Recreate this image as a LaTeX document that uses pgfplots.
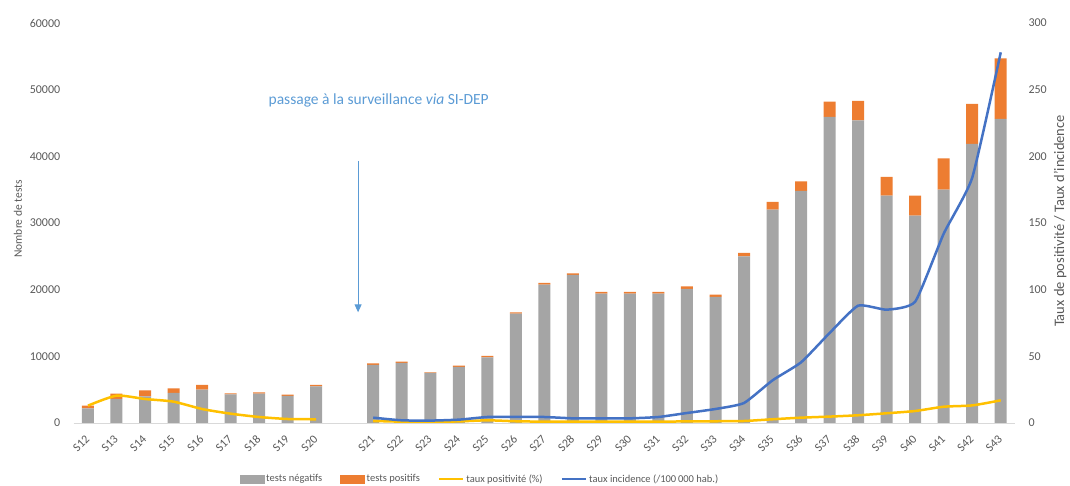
\documentclass[border=0pt]{standalone}
\usepackage{fontspec}
\setmainfont{Carlito}
\usepackage{pgfplots}
\usepackage{pgfplotstable}
\pgfplotsset{compat=1.18}
\usetikzlibrary{arrows.meta}
\definecolor{cgray}{HTML}{A5A5A5}
\definecolor{corange}{HTML}{ED7D31}
\definecolor{cyellow}{HTML}{FFC000}
\definecolor{cblue}{HTML}{4472C4}
\definecolor{carrow}{HTML}{5B9BD5}
\definecolor{ctext}{HTML}{595959}
\definecolor{caxis}{HTML}{D9D9D9}

\pgfplotstableread{
x neg pos
0 2200 400
1 3600 800
2 4000 900
3 4500 700
4 5000 700
5 4300 150
6 4400 200
7 4050 200
8 5500 200
10 8700 250
11 9000 200
12 7500 100
13 8400 200
14 9850 200
15 16400 200
16 20750 250
17 22200 250
18 19400 250
19 19400 250
20 19400 250
21 20100 400
22 18900 350
23 25000 500
24 32000 1150
25 34800 1450
26 45900 2300
27 45400 2900
28 34100 2800
29 31100 3000
30 35000 4700
31 41850 6000
32 45600 9100
}\bars

\pgfplotstableread{
x y
0 13
1 20.5
2 18
3 16
4 10.5
5 7
6 4.5
7 3
8 2.8
}\posleft

\pgfplotstableread{
x y
10 1.5
11 1.0
12 0.8
13 1.2
14 2.0
15 1.3
16 1.0
17 1.0
18 1.0
19 1.0
20 1.0
21 1.2
22 1.3
23 1.5
24 2.8
25 4
26 4.8
27 5.8
28 7.3
29 9
30 12.2
31 13.2
32 17
}\posright

\pgfplotstableread{
x y
10 4
11 2
12 1.8
13 2.5
14 4.5
15 4.5
16 4.5
17 3.5
18 3.5
19 3.5
20 4.5
21 7.5
22 10.5
23 15
24 32
25 45.5
26 67.5
27 88
28 85
29 91
30 142
31 184
32 278
}\incid

\pgfplotsset{
  common/.style={
    at={(73.7pt,63pt)}, anchor=south west,
    width=941.3pt, height=400pt, scale only axis,
    xmin=-0.5, xmax=32.5,
    major tick length=0pt,
    tick label style={font=\fontsize{12}{14}\selectfont, text=ctext},
    /pgf/number format/assume math mode=true,
    /pgf/number format/1000 sep={},
    scaled y ticks=false,
  }
}

\begin{document}
\begin{tikzpicture}
\useasboundingbox (0,0) rectangle (1070pt,486pt);
\begin{axis}[common,
  ymin=0, ymax=60000,
  ytick={0,10000,...,60000},
  axis x line*=bottom, axis y line*=left,
  x axis line style={caxis, line width=0.8pt},
  y axis line style={draw=none},
  xtick={0,1,2,3,4,5,6,7,8,10,11,12,13,14,15,16,17,18,19,20,21,22,23,24,25,26,27,28,29,30,31,32},
  xticklabels={S12,S13,S14,S15,S16,S17,S18,S19,S20,S21,S22,S23,S24,S25,S26,S27,S28,S29,S30,S31,S32,S33,S34,S35,S36,S37,S38,S39,S40,S41,S42,S43},
  xticklabel style={xshift=2pt, yshift=-11.5pt, rotate=45, anchor=east},
  yticklabel style={xshift=-10pt},
  ylabel={Nombre de tests},
  ylabel style={at={(axis description cs:-0.0592,0.51)}, anchor=center, rotate=0,
    font=\fontsize{11.5}{13}\selectfont, text=ctext},
  ybar stacked, bar width=12pt,
]
\addplot[fill=cgray, draw=none] table[x=x, y=neg] {\bars};
\addplot[fill=corange, draw=none] table[x=x, y=pos] {\bars};
\draw[carrow, line width=1pt, -{Triangle[length=8pt,width=7pt]}] (axis cs:9.47,39300) -- (axis cs:9.47,16600);
\end{axis}
\begin{axis}[common,
  ymin=0, ymax=300,
  ytick={0,50,...,300},
  axis x line=none, axis y line*=right,
  y axis line style={draw=none},
  yticklabel style={anchor=west, xshift=10pt},
  ylabel={Taux de positivité / Taux d'incidence},
  ylabel style={at={(axis description cs:1.048,0.505)}, anchor=center, rotate=0,
    font=\fontsize{14.5}{16}\selectfont, text=ctext},
  legend style={at={(0.4317,-0.14)}, anchor=center, draw=none, fill=none,
    legend columns=4, font=\fontsize{10.5}{12}\selectfont, text=ctext,
    /tikz/every odd column/.append style={column sep=0pt},
    /tikz/every even column/.append style={column sep=16pt}},
  legend image code/.code={\draw (0pt,0pt) -- (24pt,0pt);},
]
\addlegendimage{legend image code/.code={\fill[cgray] (0pt,-4pt) rectangle (24pt,4pt);}}
\addlegendentry{tests négatifs}
\addlegendimage{legend image code/.code={\fill[corange] (0pt,-4pt) rectangle (24pt,4pt);}}
\addlegendentry{tests positifs}
\addplot[cyellow, line width=2.5pt, smooth, tension=0.4, forget plot] table[x=x, y=y] {\posleft};
\addplot[cyellow, line width=2.5pt, smooth, tension=0.4] table[x=x, y=y] {\posright};
\addlegendentry{taux positivité (\%)}
\addplot[cblue, line width=2.5pt, smooth, tension=0.3] table[x=x, y=y] {\incid};
\addlegendentry{taux incidence (/100\,000 hab.)}
\node[text=carrow, font=\fontsize{15.5}{17}\selectfont] at (rel axis cs:0.324,0.8075) {passage à la surveillance \textit{via} SI-DEP};
\end{axis}
\end{tikzpicture}
\end{document}
